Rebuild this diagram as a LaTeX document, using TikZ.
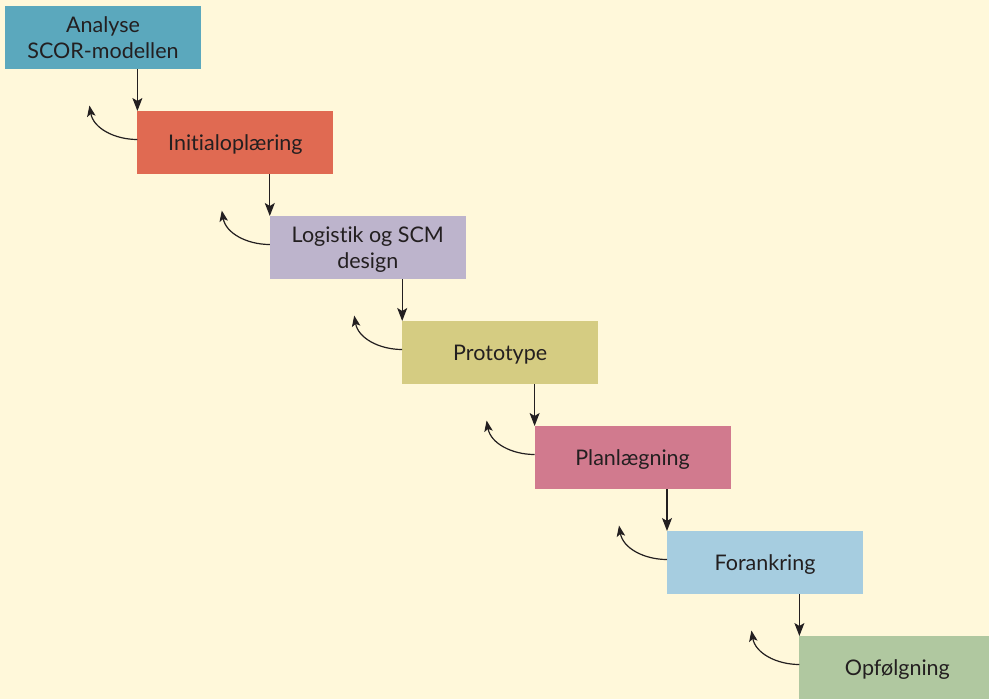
\documentclass[tikz,border=0pt]{standalone}
\usepackage{fontspec}
\setmainfont{Lato}[Ligatures={NoCommon}]
\usetikzlibrary{arrows.meta,positioning}
\definecolor{paper}{HTML}{FFF8DA}
\definecolor{ink}{HTML}{231F20}
\definecolor{teal}{HTML}{5BA8BD}
\definecolor{brick}{HTML}{E06A52}
\definecolor{lilac}{HTML}{BDB4CC}
\definecolor{straw}{HTML}{D5CC82}
\definecolor{rose}{HTML}{D17A8E}
\definecolor{sky}{HTML}{A6CDE0}
\definecolor{sage}{HTML}{B0C8A0}

\begin{document}
\begin{tikzpicture}[x=1pt,y=1pt,line width=1.2pt,draw=ink,
    node distance=42pt and -63.6pt,
    box/.style={minimum width=196pt,minimum height=63pt,inner sep=0pt,outer sep=0pt,
      align=center,text=ink,text depth=0pt,font=\fontsize{21.5}{26}\selectfont},
    down/.style={-{Stealth[length=13pt,width=10pt,inset=3pt]}},
    back/.style={-{Stealth[length=11pt,width=8.5pt,inset=2.5pt]},out=180,in=-80}]
    \fill[paper] (0,0) rectangle (989,-699);
    \useasboundingbox (0,0) rectangle (989,-699);
    \node[box,fill=teal,anchor=north west] (analyse) at (5,-6) {Analyse\\SCOR-modellen} ;
    \node[box,fill=brick] (initial) [below right=of analyse] {Initialoplæring} ;
    \node[box,fill=lilac] (design) [below right=of initial] {Logistik og SCM\\design} ;
    \node[box,fill=straw] (proto) [below right=of design] {Prototype} ;
    \node[box,fill=rose] (plan) [below right=of proto] {Planlægning} ;
    \node[box,fill=sky] (anchor) [below right=of plan] {Forankring} ;
    \node[box,fill=sage] (follow) [below right=of anchor] {Opfølgning} ;
    % steps down
    \draw[down] (initial.north west |- analyse.south) -- (initial.north west);
    \draw[down] (design.north west |- initial.south) -- (design.north west);
    \draw[down] (proto.north west |- design.south) -- (proto.north west);
    \draw[down] (plan.north west |- proto.south) -- (plan.north west);
    \draw[down] (anchor.north west |- plan.south) -- (anchor.north west);
    \draw[down] (follow.north west |- anchor.south) -- (follow.north west);
    % going back
    \coordinate[above left=37pt and 48pt of initial.west] (up1);
    \coordinate[above left=37pt and 48pt of design.west] (up2);
    \coordinate[above left=37pt and 48pt of proto.west] (up3);
    \coordinate[above left=37pt and 48pt of plan.west] (up4);
    \coordinate[above left=37pt and 48pt of anchor.west] (up5);
    \coordinate[above left=37pt and 48pt of follow.west] (up6);
    \draw[back] ([yshift=3pt]initial.west) to (up1);
    \draw[back] ([yshift=3pt]design.west) to (up2);
    \draw[back] ([yshift=3pt]proto.west) to (up3);
    \draw[back] ([yshift=3pt]plan.west) to (up4);
    \draw[back] ([yshift=3pt]anchor.west) to (up5);
    \draw[back] ([yshift=3pt]follow.west) to (up6);
\end{tikzpicture}
\end{document}
